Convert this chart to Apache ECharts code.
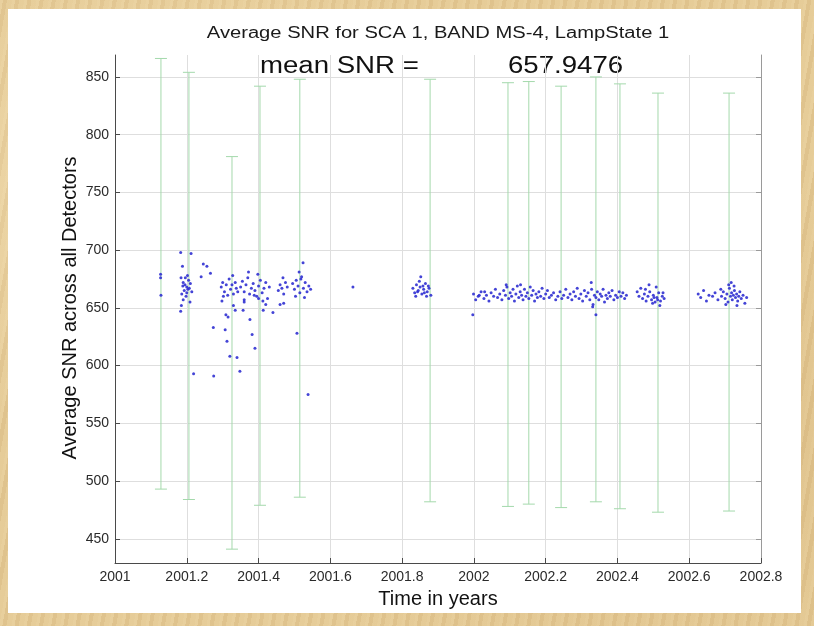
<!DOCTYPE html>
<html>
<head>
<meta charset="utf-8">
<script src="https://cdn.jsdelivr.net/npm/echarts@6/dist/echarts.min.js"></script>
<style>
  html, body { margin: 0; padding: 0; }
  body {
    width: 814px; height: 626px; position: relative; overflow: hidden;
    background:
      radial-gradient(ellipse at 20% 30%, rgba(255,240,205,0.35), rgba(255,240,205,0) 40%),
      radial-gradient(ellipse at 80% 70%, rgba(200,160,100,0.25), rgba(200,160,100,0) 45%),
      repeating-linear-gradient(100deg, rgba(255,240,200,0.18) 0 3px, rgba(190,150,90,0.10) 3px 7px, rgba(255,235,190,0.12) 7px 12px),
      #e3c893;
  }
  #paper { position: absolute; left: 8px; top: 9px; width: 793px; height: 604px; background: #fff; }
  #chart { position: absolute; left: 0; top: 0; width: 814px; height: 626px; }
</style>
</head>
<body>
<div id="paper"></div>
<div id="chart"></div>
<script>
// Axis ticks
const xTicks = [2001, 2001.2, 2001.4, 2001.6, 2001.8, 2002, 2002.2, 2002.4, 2002.6, 2002.8];
const yTicks = [450, 500, 550, 600, 650, 700, 750, 800, 850];

// Error bars: epoch (years), lower and upper SNR limits
const errX    = [2001.128, 2001.206, 2001.326, 2001.404, 2001.515, 2001.878, 2002.095, 2002.153, 2002.243, 2002.340, 2002.407, 2002.513, 2002.711];
const errLow  = [493, 484, 441, 479, 486, 482, 478, 480, 477, 482, 476, 473, 474];
const errHigh = [866, 854, 781, 842, 848, 848, 845, 846, 842, 850, 844, 836, 836];

// Per-acquisition average SNR across all detectors: [time in years, SNR]
const snrPoints = [
  [2001.127, 679], [2001.127, 676], [2001.128, 661],
  [2001.183, 698], [2001.212, 697], [2001.188, 686], [2001.184, 676], [2001.190, 672], [2001.195, 670],
  [2001.200, 668], [2001.205, 674], [2001.193, 665], [2001.186, 662], [2001.198, 660], [2001.207, 667],
  [2001.210, 671], [2001.214, 664], [2001.190, 657], [2001.185, 652], [2001.183, 647], [2001.202, 678],
  [2001.196, 676], [2001.209, 655], [2001.219, 593], [2001.200, 663], [2001.189, 669], [2001.203, 666],
  [2001.240, 677], [2001.246, 688], [2001.256, 686], [2001.266, 680],
  [2001.274, 633], [2001.307, 631], [2001.312, 621], [2001.320, 608], [2001.340, 607], [2001.275, 591],
  [2001.348, 595], [2001.309, 644], [2001.315, 642], [2001.335, 648], [2001.357, 648], [2001.382, 627],
  [2001.390, 615], [2001.376, 640], [2001.413, 648], [2001.440, 646], [2001.460, 653], [2001.507, 628],
  [2001.538, 575], [2001.524, 689], [2001.298, 656], [2001.330, 652], [2001.360, 655], [2001.400, 658],
  [2001.420, 653], [2001.470, 654],
  [2001.296, 668], [2001.300, 672], [2001.305, 664], [2001.310, 670], [2001.314, 661], [2001.318, 675],
  [2001.322, 666], [2001.326, 670], [2001.330, 662], [2001.335, 672], [2001.338, 667], [2001.302, 660],
  [2001.328, 678], [2001.342, 664],
  [2001.350, 668], [2001.355, 673], [2001.360, 664], [2001.365, 670], [2001.370, 676], [2001.375, 662],
  [2001.380, 667], [2001.385, 671], [2001.390, 665], [2001.395, 660], [2001.400, 669], [2001.405, 674],
  [2001.410, 663], [2001.415, 667], [2001.420, 672], [2001.425, 658], [2001.430, 668], [2001.372, 681],
  [2001.398, 679], [2001.360, 657], [2001.388, 661], [2001.412, 656],
  [2001.455, 665], [2001.460, 670], [2001.465, 667], [2001.470, 662], [2001.475, 672], [2001.480, 668],
  [2001.468, 676],
  [2001.495, 671], [2001.500, 666], [2001.505, 674], [2001.510, 669], [2001.515, 663], [2001.520, 677],
  [2001.525, 667], [2001.530, 672], [2001.535, 664], [2001.540, 669], [2001.545, 666], [2001.513, 681],
  [2001.503, 660], [2001.528, 659], [2001.518, 675],
  [2001.663, 668],
  [2001.830, 667], [2001.835, 663], [2001.840, 670], [2001.845, 665], [2001.850, 668], [2001.855, 662],
  [2001.860, 666], [2001.865, 671], [2001.870, 664], [2001.875, 667], [2001.880, 661], [2001.838, 660],
  [2001.848, 673], [2001.858, 669], [2001.868, 660], [2001.852, 677], [2001.843, 664], [2001.862, 663],
  [2001.873, 669],
  [2001.997, 644], [2001.999, 662], [2002.005, 657], [2002.012, 660], [2002.020, 664], [2002.028, 658],
  [2002.035, 661], [2002.042, 656], [2002.048, 663], [2002.055, 660], [2002.060, 666], [2002.066, 659],
  [2002.072, 662], [2002.078, 657], [2002.083, 665], [2002.088, 661], [2002.092, 668], [2002.097, 658],
  [2002.101, 663], [2002.105, 660], [2002.109, 666], [2002.113, 656], [2002.117, 662], [2002.121, 669],
  [2002.125, 659], [2002.129, 664], [2002.133, 661], [2002.137, 657], [2002.141, 666], [2002.145, 660],
  [2002.149, 663], [2002.153, 658], [2002.157, 668], [2002.161, 661], [2002.165, 665], [2002.169, 656],
  [2002.173, 662], [2002.177, 659], [2002.181, 664], [2002.186, 660], [2002.190, 667], [2002.195, 658],
  [2002.200, 662], [2002.205, 665], [2002.210, 659], [2002.216, 661], [2002.222, 663], [2002.228, 657],
  [2002.234, 660], [2002.240, 664], [2002.245, 658], [2002.250, 661], [2002.256, 666], [2002.262, 659],
  [2002.268, 662], [2002.273, 657], [2002.278, 664], [2002.283, 660], [2002.288, 667], [2002.293, 658],
  [2002.298, 662], [2002.303, 656], [2002.308, 665], [2002.313, 660], [2002.318, 663], [2002.323, 657],
  [2002.328, 666], [2002.332, 653], [2002.336, 661], [2002.340, 659], [2002.344, 664], [2002.348, 657],
  [2002.352, 662], [2002.356, 660], [2002.360, 666], [2002.364, 655], [2002.368, 661], [2002.372, 658],
  [2002.376, 663], [2002.380, 660], [2002.385, 665], [2002.390, 657], [2002.395, 661], [2002.400, 659],
  [2002.405, 664], [2002.410, 660], [2002.415, 663], [2002.420, 658], [2002.425, 661], [2002.340, 644],
  [2002.331, 651], [2002.327, 672], [2002.130, 670], [2002.090, 670], [2002.030, 664], [2002.015, 661],
  [2002.455, 664], [2002.460, 660], [2002.465, 667], [2002.470, 658], [2002.475, 662], [2002.480, 656],
  [2002.485, 660], [2002.490, 664], [2002.495, 657], [2002.500, 661], [2002.505, 655], [2002.510, 659],
  [2002.515, 663], [2002.520, 656], [2002.525, 660], [2002.530, 658], [2002.488, 670], [2002.508, 668],
  [2002.498, 654], [2002.518, 652], [2002.478, 666], [2002.527, 663], [2002.512, 657], [2002.502, 659],
  [2002.625, 662], [2002.632, 659], [2002.640, 665], [2002.648, 656], [2002.655, 661], [2002.665, 660],
  [2002.672, 663], [2002.680, 657], [2002.688, 666],
  [2002.690, 660], [2002.695, 664], [2002.700, 658], [2002.705, 662], [2002.708, 655], [2002.712, 667],
  [2002.715, 660], [2002.718, 663], [2002.720, 657], [2002.723, 661], [2002.726, 665], [2002.729, 659],
  [2002.732, 662], [2002.735, 656], [2002.738, 660], [2002.741, 664], [2002.745, 658], [2002.750, 661],
  [2002.755, 654], [2002.760, 659], [2002.710, 670], [2002.725, 669], [2002.702, 653], [2002.733, 652],
  [2002.717, 672]
];

const meanSNR = '657.9476';
const FONT = '"Liberation Sans", Arial, Helvetica, sans-serif';

const chart = echarts.init(document.getElementById('chart'), null, { renderer: 'canvas' });

const gridColor = '#dedede';
const axisColor = '#4a4a4a';

chart.setOption({
  backgroundColor: 'transparent',
  animation: false,
  grid: { left: 115, right: 53, top: 55, bottom: 63 },
  xAxis: {
    type: 'value',
    min: xTicks[0],
    max: xTicks[xTicks.length - 1],
    interval: 0.2,
    axisLine: { show: true, onZero: false, lineStyle: { color: axisColor, width: 1 } },
    axisTick: { show: true, inside: true, length: 5, lineStyle: { color: axisColor } },
    axisLabel: {
      color: '#2a2a2a', fontFamily: FONT, fontSize: 14, margin: 7,
      formatter: v => String(Math.round(v * 10) / 10)
    },
    splitLine: { show: true, lineStyle: { color: gridColor, width: 1 } }
  },
  yAxis: [
    {
      type: 'value',
      min: 429,
      max: 869,
      axisLine: { show: true, onZero: false, lineStyle: { color: axisColor, width: 1 } },
      axisTick: { show: true, inside: true, length: 5, customValues: yTicks, lineStyle: { color: axisColor } },
      axisLabel: { color: '#2a2a2a', fontFamily: FONT, fontSize: 14, margin: 6, customValues: yTicks },
      splitLine: { show: true, lineStyle: { color: gridColor, width: 1 } }
    },
    {
      type: 'value',
      position: 'right',
      min: 429,
      max: 869,
      axisLine: { show: true, onZero: false, lineStyle: { color: '#9a9a9a', width: 1 } },
      axisTick: { show: true, inside: true, length: 5, customValues: yTicks, lineStyle: { color: '#9a9a9a' } },
      axisLabel: { show: false, customValues: yTicks },
      splitLine: { show: false }
    }
  ],
  series: [
    {
      name: 'SNR range',
      type: 'custom',
      data: errX.map((x, i) => [x, errLow[i], errHigh[i]]),
      encode: { x: 0, y: [1, 2] },
      renderItem(params, api) {
        const x = api.value(0);
        const lo = api.coord([x, api.value(1)]);
        const hi = api.coord([x, api.value(2)]);
        const cap = 6;
        const style = { stroke: '#a4d9ac', lineWidth: 1, fill: null };
        return {
          type: 'group',
          children: [
            { type: 'line', shape: { x1: lo[0], y1: lo[1], x2: hi[0], y2: hi[1] }, style },
            { type: 'line', shape: { x1: lo[0] - cap, y1: lo[1], x2: lo[0] + cap, y2: lo[1] }, style },
            { type: 'line', shape: { x1: hi[0] - cap, y1: hi[1], x2: hi[0] + cap, y2: hi[1] }, style }
          ]
        };
      },
      z: 2
    },
    {
      name: 'Average SNR',
      type: 'scatter',
      data: snrPoints,
      symbol: 'circle',
      symbolSize: 3,
      itemStyle: { color: '#3030d2', opacity: 0.9 },
      z: 3
    }
  ],
  graphic: [
    {
      type: 'text', x: 438, y: 34, scaleX: 1.26,
      style: { text: 'Average SNR for SCA 1, BAND MS-4, LampState 1', font: `16px ${FONT}`, fill: '#1a1a1a', align: 'center', verticalAlign: 'middle' }
    },
    {
      type: 'text', x: 260, y: 67, scaleX: 1.2,
      style: { text: 'mean SNR =', font: `23px ${FONT}`, fill: '#111', align: 'left', verticalAlign: 'middle' }
    },
    {
      type: 'text', x: 508, y: 67, scaleX: 1.2,
      style: { text: meanSNR, font: `23px ${FONT}`, fill: '#111', align: 'left', verticalAlign: 'middle' }
    },
    {
      type: 'text', x: 438, y: 599,
      style: { text: 'Time in years', font: `20px ${FONT}`, fill: '#111', align: 'center', verticalAlign: 'middle' }
    },
    {
      type: 'text', x: 70, y: 308, rotation: Math.PI / 2,
      style: { text: 'Average SNR across all Detectors', font: `20px ${FONT}`, fill: '#111', align: 'center', verticalAlign: 'middle' }
    }
  ]
});
</script>
</body>
</html>
